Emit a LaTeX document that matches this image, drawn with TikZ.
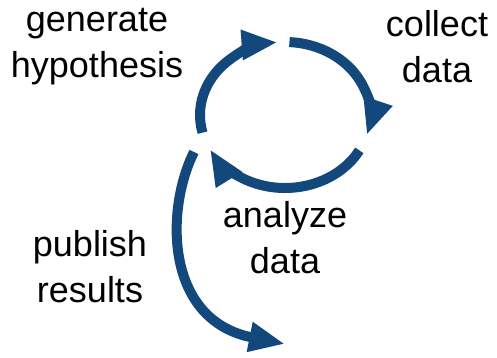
\documentclass[tikz,border=0pt]{standalone}
\usepackage{fontspec}
\setmainfont{Liberation Sans}
\usetikzlibrary{arrows.meta,calc}
\definecolor{cycleblue}{RGB}{19,72,124}
\tikzset{
  flow/.style={draw=cycleblue, line width=10pt,
    -{Triangle[length=36pt,width=28pt]}},
  label/.style={align=center, anchor=base, inner sep=0pt,
    font=\fontsize{36pt}{46pt}\selectfont}
}
\begin{document}
\begin{tikzpicture}[x=1pt,y=1pt]
  \useasboundingbox (0,0) rectangle (497,357);
  % centre of the research cycle
  \coordinate (c) at (285,242);
  \coordinate (s1) at ($(c)+(194:85 and 73)$);
  \coordinate (s2) at ($(c)+(87:85 and 73)$);
  \coordinate (s3) at ($(c)+(-29:85 and 73)$);
  \coordinate (s4) at (194,205);
  \coordinate (e4) at (285,13);

  % stage labels (anchored at the baseline of their last line)
  \node[label] (gen) at (97,280) {generate\\hypothesis};
  \node[label] (col) at (437,275) {collect\\data};
  \node[label] (ana) at (285,84) {analyze\\data};
  \node[label] (pub) at (90,55) {publish\\results};

  % the cycle
  \draw[flow] (s1) arc[start angle=194, end angle=95, x radius=85, y radius=73];
  \draw[flow] (s2) arc[start angle=87, end angle=-16, x radius=85, y radius=73];
  \draw[flow] (s3) arc[start angle=-29, end angle=-152, x radius=85, y radius=73];
  % leaving the cycle
  \draw[flow] (s4) .. controls (165,147) and (165,37) .. (e4);
\end{tikzpicture}
\end{document}
